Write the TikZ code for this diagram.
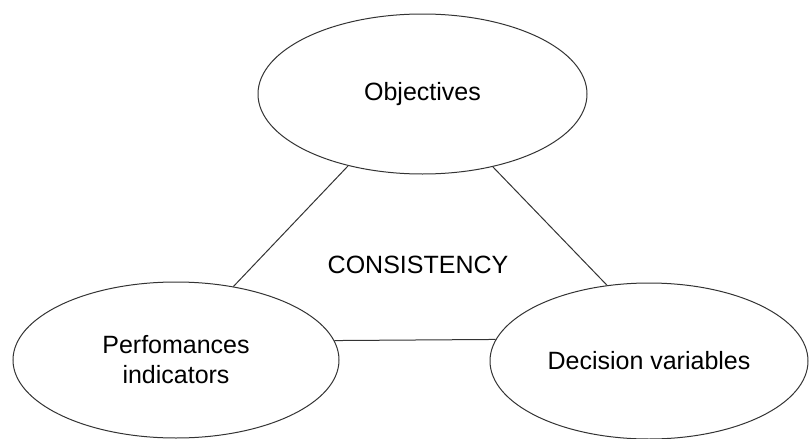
\documentclass[tikz,border=0pt]{standalone}
\usepackage{fontspec}
\setmainfont{Liberation Sans}
\usetikzlibrary{shapes.geometric}

\begin{document}
\begin{tikzpicture}[x=0.5pt,y=-0.5pt,
    bubble/.style={ellipse,draw=black!80,line width=0.5pt,inner sep=0pt,
      align=center,font=\fontsize{12.5}{15}\selectfont},
    link/.style={draw=black!80,line width=0.5pt}]

  % page frame
  \useasboundingbox (0,0) rectangle (809,439);

  % the three ellipses
  \node[bubble,minimum width=164.5pt,minimum height=80pt] (obj) at (422.5,94) {Objectives};
  \node[bubble,minimum width=163pt,minimum height=78pt] (perf) at (176,360) {Perfomances\\indicators};
  \node[bubble,minimum width=159pt,minimum height=78pt] (dec) at (649,361) {Decision variables};

  % centre label
  \node[font=\fontsize{12.5}{15}\selectfont] (cons) at (418,265) {CONSISTENCY};

  % sides of the triangle
  \draw[link] (obj.224.4) -- (perf.52.8);
  \draw[link] (obj.314) -- (dec.119.7);
  \draw[link] (perf.7.4) -- (dec.172);

\end{tikzpicture}
\end{document}
